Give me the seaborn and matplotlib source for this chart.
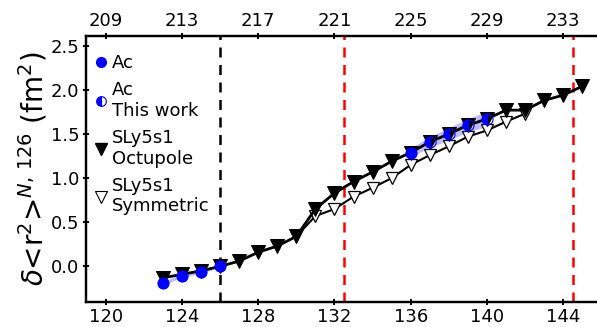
import numpy as np
import pandas as pd
import matplotlib
matplotlib.use("Agg")
import matplotlib.pyplot as plt
import seaborn as sns
from matplotlib.lines import Line2D

# Neutron numbers and charge-radius differences (fm^2)
ac_n = [123, 124, 125, 126, 136]
ac_dr2 = [-0.19, -0.105, -0.063, 0.0, 1.29]

work_n = [137, 138, 139, 140]
work_dr2 = [1.41, 1.50, 1.60, 1.67]

band_n = [136, 137, 138, 139, 140]
band_mid = [1.29, 1.41, 1.50, 1.60, 1.67]
band_err = [0.05, 0.06, 0.07, 0.075, 0.085]

low_band_n = [123, 124, 125, 126]
low_band_mid = [-0.19, -0.105, -0.063, 0.0]
low_band_err = [0.02, 0.02, 0.015, 0.01]

oct_n = [123, 124, 125, 126, 127, 128, 129, 130, 131, 132, 133, 134,
         135, 136, 137, 138, 139, 140, 141, 142, 143, 144, 145]
oct_dr2 = [-0.13, -0.09, -0.05, 0.0, 0.06, 0.16, 0.23, 0.34, 0.65, 0.83,
           0.96, 1.07, 1.19, 1.29, 1.41, 1.50, 1.60, 1.67, 1.77, 1.77,
           1.88, 1.94, 2.04]

sym_n = [130, 131, 132, 133, 134, 135, 136, 137, 138, 139, 140, 141, 142]
sym_dr2 = [0.34, 0.57, 0.65, 0.79, 0.89, 1.00, 1.15, 1.26, 1.36, 1.47,
           1.54, 1.64, 1.73]

top_ticks = [209, 213, 217, 221, 225, 229, 233]
bottom_ticks = [120, 124, 128, 132, 136, 140, 144]
y_ticks = [0.0, 0.5, 1.0, 1.5, 2.0, 2.5]

Z_AC = 89
shell_closure = 126
red_lines = [132.5, 144.5]

sns.set_style("ticks")
plt.rcParams["font.family"] = ["DejaVu Sans"]
plt.rcParams["mathtext.fontset"] = "dejavusans"
plt.rcParams["text.color"] = "black"
plt.rcParams["axes.labelcolor"] = "black"

fig = plt.figure(figsize=(5.97, 3.27), dpi=100)
ax = fig.add_axes([0.1436, 0.0774, 0.862, 0.8125])

# uncertainty bands
ax.fill_between(band_n, np.subtract(band_mid, band_err), np.add(band_mid, band_err),
                color="#7b7bff", alpha=0.5, lw=0, zorder=1)
ax.fill_between(low_band_n, np.subtract(low_band_mid, low_band_err),
                np.add(low_band_mid, low_band_err),
                color="#7b7bff", alpha=0.5, lw=0, zorder=1)

# reference lines
ax.axvline(shell_closure, color="black", ls=(0, (4, 3)), lw=1.8, zorder=0.5)
for xv in red_lines:
    ax.axvline(xv, color="red", ls=(0, (4, 3)), lw=1.8, zorder=0.5)

sym_df = pd.DataFrame({"N": sym_n, "dr2": sym_dr2})
oct_df = pd.DataFrame({"N": oct_n, "dr2": oct_dr2})
ac_df = pd.DataFrame({"N": ac_n, "dr2": ac_dr2})
work_df = pd.DataFrame({"N": work_n, "dr2": work_dr2})

sns.lineplot(data=sym_df, x="N", y="dr2", ax=ax, color="black", lw=1.5,
             marker="v", markersize=9, markerfacecolor="white",
             markeredgecolor="black", markeredgewidth=0.9, zorder=2)
sns.lineplot(data=oct_df, x="N", y="dr2", ax=ax, color="black", lw=2,
             marker="v", markersize=9.5, markerfacecolor="black",
             markeredgecolor="black", zorder=3)
sns.lineplot(data=ac_df, x="N", y="dr2", ax=ax, color="blue", linestyle="",
             marker="o", markersize=8, markeredgecolor="blue", zorder=4)
sns.lineplot(data=work_df, x="N", y="dr2", ax=ax, color="blue", linestyle="",
             marker="o", markersize=8, fillstyle="left",
             markerfacecoloralt="none", markeredgecolor="blue",
             markeredgewidth=0.8, zorder=4)

ax.set_xlim(118.95, 145.95)
ax.set_ylim(-0.4, 2.61)
ax.set_xticks(bottom_ticks)
ax.set_yticks(y_ticks)
ax.set_yticklabels([f"{v:.1f}" for v in y_ticks])
ax.set_xlabel("")
ax.set_ylabel(r"$\delta$<r$^2$>$^{N,\,126}$ (fm$^2$)", fontsize=20, labelpad=1)

ax_top = ax.twiny()
ax_top.set_xlim(ax.get_xlim())
ax_top.set_xticks([t - Z_AC for t in top_ticks])
ax_top.set_xticklabels([str(t) for t in top_ticks])

for a in (ax, ax_top):
    for side in ("left", "bottom", "top"):
        a.spines[side].set_linewidth(1.6)
        a.spines[side].set_color("black")
    a.spines["right"].set_visible(False)
    a.tick_params(direction="inout", length=5, width=1.4, labelsize=13,
                  pad=2, colors="black")

handles = [
    Line2D([], [], ls="", marker="o", markersize=7, color="blue"),
    Line2D([], [], ls="", marker="o", markersize=7, color="blue",
           fillstyle="left", markerfacecoloralt="white", markeredgewidth=0.8),
    Line2D([], [], ls="", marker="v", markersize=9, color="black"),
    Line2D([], [], ls="", marker="v", markersize=9, markerfacecolor="white",
           markeredgecolor="black", markeredgewidth=0.8),
]
labels = ["Ac", "Ac\nThis work", "SLy5s1\nOctupole", "SLy5s1\nSymmetric"]
ax.legend(handles, labels, loc="upper left", bbox_to_anchor=(0.0, 0.97),
          frameon=False, fontsize=13, handlelength=0.6, handletextpad=0.3,
          labelspacing=0.5, borderaxespad=0.2, borderpad=0.35)

fig.savefig("out.png", dpi=100)
